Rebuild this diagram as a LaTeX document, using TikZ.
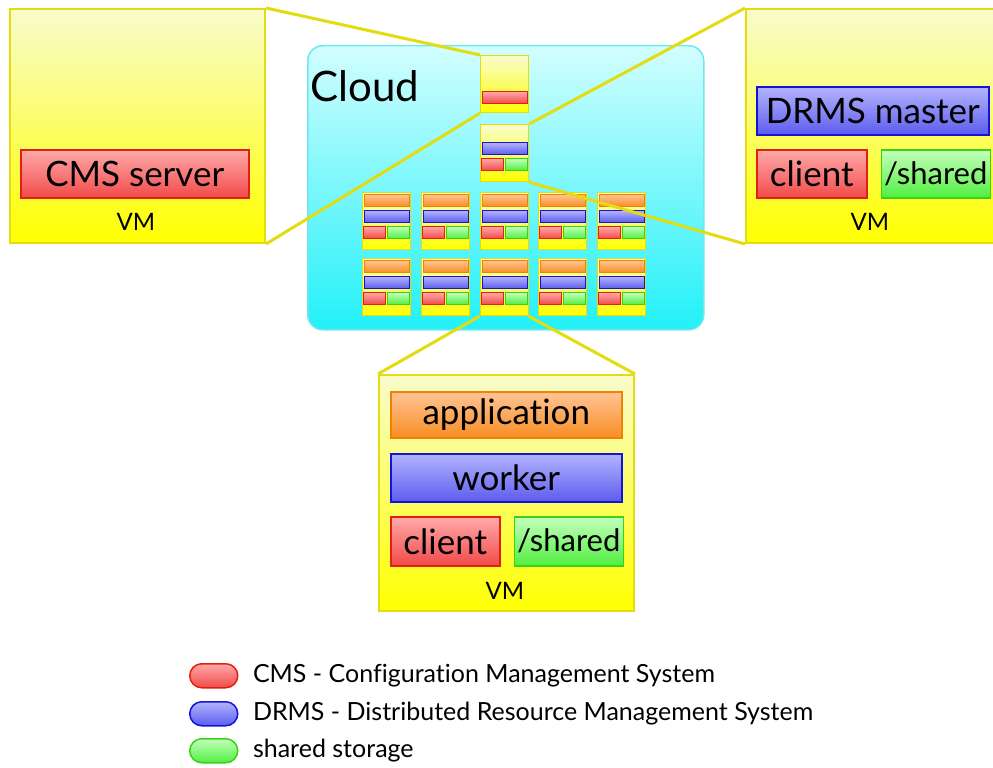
\documentclass[tikz,border=0pt]{standalone}
\usepackage{fontspec}
\setmainfont{Lato}[Ligatures=NoCommon]
\usepackage{xcolor}
\usepackage{tikz}
\usetikzlibrary{positioning}

\definecolor{vmline}{HTML}{E2DC10}
\definecolor{vmtop}{HTML}{F8FCCC}
\definecolor{vmbot}{HTML}{FFFF00}
\definecolor{cloudtop}{HTML}{D2FEFF}
\definecolor{cloudbot}{HTML}{22F0F8}
\definecolor{cloudline}{HTML}{70E6EE}
\definecolor{redtop}{HTML}{FFAAAA}
\definecolor{redbot}{HTML}{F24A4A}
\definecolor{redline}{HTML}{E2200E}
\definecolor{bluetop}{HTML}{B4B4FF}
\definecolor{bluebot}{HTML}{5C5CEE}
\definecolor{blueline}{HTML}{1414D8}
\definecolor{greentop}{HTML}{C4FFBC}
\definecolor{greenbot}{HTML}{52EE42}
\definecolor{greenline}{HTML}{36D414}
\definecolor{orangetop}{HTML}{FFC496}
\definecolor{orangebot}{HTML}{F88E22}
\definecolor{orangeline}{HTML}{F08200}

\begin{document}
\begin{tikzpicture}[
    x=1pt, y=-1pt,
    vm/.style={draw=vmline, line width=2pt, top color=vmtop, bottom color=vmbot,
        anchor=north west, inner sep=0pt},
    minivm/.style={vm, line width=1.2pt, minimum width=48pt, minimum height=57pt},
    cloudbox/.style={draw=cloudline, line width=1.5pt, top color=cloudtop,
        bottom color=cloudbot, rounded corners=15pt, anchor=north west},
    bar/.style={draw, line width=1.5pt, inner sep=0pt, anchor=north west,
        font=\fontsize{35}{37}\selectfont},
    tiny/.style={bar, line width=1pt, minimum height=12pt},
    cms/.style={draw=redline, top color=redtop, bottom color=redbot},
    drms/.style={draw=blueline, top color=bluetop, bottom color=bluebot},
    share/.style={draw=greenline, top color=greentop, bottom color=greenbot},
    app/.style={draw=orangeline, top color=orangetop, bottom color=orangebot},
    sharetext/.style={font=\fontsize{31}{33}\selectfont},
    vmlabel/.style={font=\fontsize{24}{26}\selectfont},
    zoomline/.style={vmline, line width=3pt},
    pill/.style={draw, line width=1.5pt, rounded corners=12pt, minimum width=48pt,
        minimum height=24pt, inner sep=0pt, anchor=north west},
    legend/.style={anchor=west, font=\fontsize{25}{27}\selectfont},
]
\useasboundingbox (0,0) rectangle (993,768);

% --- Cloud ---
\node[cloudbox, minimum width=396pt, minimum height=284pt] (cloudarea) at (307,45) {};
\node[anchor=base west, font=\fontsize{42}{44}\selectfont] (cloudlbl) at (307,101) {Cloud};

% --- VMs inside the cloud ---
\node[minivm] (cmsmini) at (480,55) {};
\node[tiny, cms, minimum width=45pt] at ([shift={(2,36)}]cmsmini.north west) {};

\node[minivm] (drmsmini) at (480,124) {};
\node[tiny, drms, minimum width=45pt] at ([shift={(2,18)}]drmsmini.north west) {};
\node[tiny, cms, minimum width=22pt] at ([shift={(1,34)}]drmsmini.north west) {};
\node[tiny, share, minimum width=22pt] at ([shift={(25,34)}]drmsmini.north west) {};

\foreach \r in {1,2} {
    \foreach \c in {1,...,5} {
        \node[minivm] (cell\r\c) at ({362+(\c-1)*58.75}, {192+(\r-1)*66}) {};
        \node[tiny, app, minimum width=45pt] at ([shift={(2,2)}]cell\r\c.north west) {};
        \node[tiny, drms, minimum width=45pt] at ([shift={(2,18)}]cell\r\c.north west) {};
        \node[tiny, cms, minimum width=22pt] at ([shift={(1,34)}]cell\r\c.north west) {};
        \node[tiny, share, minimum width=22pt] at ([shift={(25,34)}]cell\r\c.north west) {};
    }
}

% --- CMS server VM ---
\node[vm, minimum width=255pt, minimum height=234pt] (cmsvm) at (9,8) {};
\node[bar, cms, minimum width=228pt, minimum height=48pt] (cmsserver) at (20,149) {CMS server};
\node[vmlabel] at (136,222) {VM};

% --- DRMS master VM ---
\node[vm, minimum width=262pt, minimum height=234pt] (drmsvm) at (745,8) {};
\node[bar, drms, minimum width=232pt, minimum height=48pt] (master) at (756,86) {DRMS master};
\node[bar, cms, minimum width=110pt, minimum height=48pt] (masterclient) at (756,149) {client};
\node[bar, share, sharetext, minimum width=109pt, minimum height=48pt, right=13pt of masterclient.north east, anchor=north west] (mastershared) {/shared};
\node[vmlabel] at (870,222) {VM};

% --- Worker VM ---
\node[vm, minimum width=255pt, minimum height=236pt] (workvm) at (378,374) {};
\node[bar, app, minimum width=231pt, minimum height=46pt] (application) at (390,391) {application};
\node[bar, drms, minimum width=231pt, minimum height=48pt] (worker) at (390,453) {worker};
\node[bar, cms, minimum width=109pt, minimum height=49pt] (workclient) at (390,516) {client};
\node[bar, share, sharetext, minimum width=109pt, minimum height=49pt, right=13pt of workclient.north east, anchor=north west] (workshared) {/shared};
\node[vmlabel] at (505,591) {VM};

% --- Zoom lines ---
\draw[zoomline] (cmsvm.north east) -- (cmsmini.north west);
\draw[zoomline] (cmsvm.south east) -- (cmsmini.south west);
\draw[zoomline] (drmsvm.north west) -- (drmsmini.north east);
\draw[zoomline] (drmsvm.south west) -- (drmsmini.south east);
\draw[zoomline] (workvm.north west) -- (cell23.south west);
\draw[zoomline] (workvm.north east) -- (cell23.south east);

% --- Legend ---
\node[pill, cms] (keycms) at (189,663) {};
\node[legend, right=11pt of keycms] {CMS - Configuration Management System};
\node[pill, drms] (keydrms) at (189,701) {};
\node[legend, right=11pt of keydrms] {DRMS - Distributed Resource Management System};
\node[pill, share] (keyshare) at (189,738) {};
\node[legend, right=11pt of keyshare] {shared storage};

\end{tikzpicture}
\end{document}
